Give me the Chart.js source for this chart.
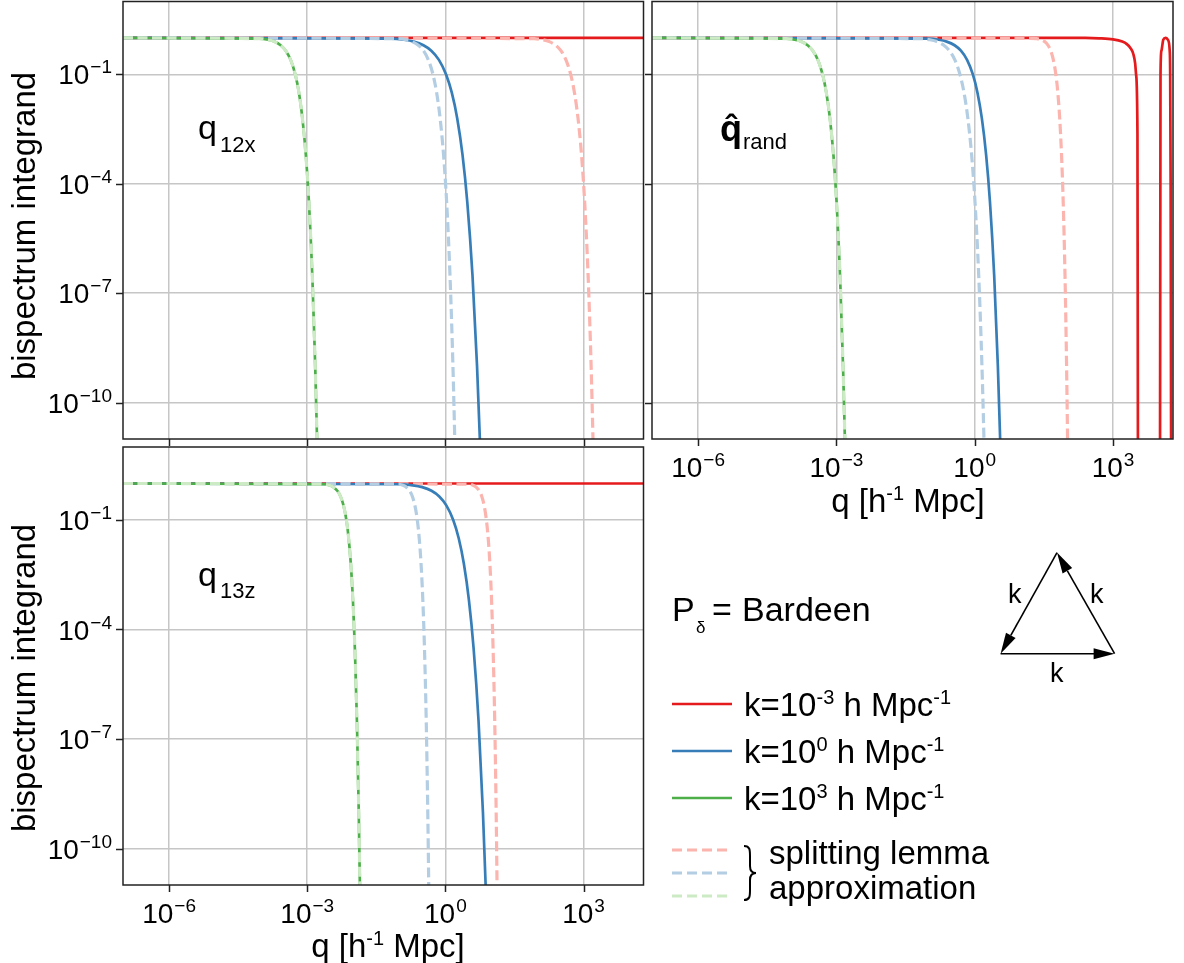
<!DOCTYPE html>
<html>
<head>
<meta charset="utf-8">
<script src="https://cdn.jsdelivr.net/npm/chart.js@4.4.1/dist/chart.umd.min.js"></script>
<style>
  html, body { margin: 0; padding: 0; background: #fff; }
  #wrap { position: relative; width: 1184px; height: 963px; overflow: hidden; background: #fff; }
  canvas { position: absolute; }
  svg { position: absolute; left: 0; top: 0; pointer-events: none; }
  svg text { font-family: 'Liberation Sans', Arial, Helvetica, sans-serif; fill: #000; }
</style>
</head>
<body>
<div id="wrap">
  <canvas id="cA" width="650" height="447" style="left:0;top:0"></canvas>
  <canvas id="cB" width="540" height="520" style="left:644px;top:0"></canvas>
  <canvas id="cC" width="650" height="518" style="left:0;top:445px"></canvas>
  <svg width="1184" height="963" viewBox="0 0 1184 963">
    <!-- axis titles -->
    <text transform="translate(35,226) rotate(-90)" text-anchor="middle" font-size="33">bispectrum integrand</text>
    <text transform="translate(35,678) rotate(-90)" text-anchor="middle" font-size="33">bispectrum integrand</text>
    <text x="908" y="512" text-anchor="middle" font-size="33">q [h<tspan font-size="20" dy="-12">-1</tspan><tspan dy="12"> Mpc]</tspan></text>
    <text x="388" y="957" text-anchor="middle" font-size="33">q [h<tspan font-size="20" dy="-12">-1</tspan><tspan dy="12"> Mpc]</tspan></text>
    <!-- panel annotations -->
    <text x="198" y="139" font-size="34">q</text>
    <text x="220" y="152" font-size="22">12x</text>
    <text x="198" y="586" font-size="34">q</text>
    <text x="220" y="598" font-size="22">13z</text>
    <text x="720" y="141" font-size="36" font-weight="bold">q</text>
    <text x="731" y="138" font-size="34" font-weight="bold" text-anchor="middle">ˆ</text>
    <text x="743" y="149" font-size="22">rand</text>
    <!-- legend -->
    <text x="672" y="621" font-size="34">P</text>
    <text x="696" y="633" font-size="17">δ</text>
    <text x="712" y="621" font-size="34">=</text>
    <text x="742" y="621" font-size="34">Bardeen</text>
    <line x1="672" x2="732" y1="704" y2="704" stroke="#e41a1c" stroke-width="2.5"/>
    <line x1="672" x2="732" y1="751" y2="751" stroke="#377eb8" stroke-width="2.5"/>
    <line x1="672" x2="732" y1="798" y2="798" stroke="#4daf4a" stroke-width="2.5"/>
    <text x="744" y="716" font-size="33">k=10<tspan font-size="20" dy="-12">-3</tspan><tspan dy="12"> h Mpc</tspan><tspan font-size="20" dy="-12">-1</tspan></text>
    <text x="744" y="763" font-size="33">k=10<tspan font-size="20" dy="-12">0</tspan><tspan dy="12"> h Mpc</tspan><tspan font-size="20" dy="-12">-1</tspan></text>
    <text x="744" y="810" font-size="33">k=10<tspan font-size="20" dy="-12">3</tspan><tspan dy="12"> h Mpc</tspan><tspan font-size="20" dy="-12">-1</tspan></text>
    <line x1="672" x2="732" y1="850" y2="850" stroke="#fbb4ae" stroke-width="3" stroke-dasharray="10 5"/>
    <line x1="672" x2="732" y1="873" y2="873" stroke="#b3cde3" stroke-width="3" stroke-dasharray="10 5"/>
    <line x1="672" x2="732" y1="896" y2="896" stroke="#ccebc5" stroke-width="3" stroke-dasharray="10 5"/>
    <path d="M744,846 C750,846 750,850 750,856 L750,866 C750,871 752,873 756,873 C752,873 750,875 750,880 L750,890 C750,896 750,900 744,900" fill="none" stroke="#000" stroke-width="2"/>
    <text x="769" y="864" font-size="33">splitting lemma</text>
    <text x="769" y="899" font-size="33">approximation</text>
    <!-- triangle -->
    <g stroke="#000" stroke-width="1.6">
      <line x1="1000.6" y1="653.7" x2="1094" y2="653.7"/>
      <line x1="1114.6" y1="653.7" x2="1067.4" y2="570.9"/>
      <line x1="1057" y1="552.6" x2="1010.8" y2="635.4"/>
    </g>
    <g fill="#000" stroke="none">
      <polygon points="1114.6,653.7 1093.6,648.2 1093.6,659.2"/>
      <polygon points="1057,552.6 1072.2,568.1 1062.6,573.6"/>
      <polygon points="1000.6,653.7 1015.6,638.1 1006.0,632.7"/>
    </g>
    <text x="1008" y="603" font-size="27">k</text>
    <text x="1090" y="603" font-size="27">k</text>
    <text x="1050" y="682" font-size="27">k</text>
  </svg>
</div>
<script>
// ---------------- axis ranges and ticks ----------------
const xRange = [1e-7, 2e4];
const yRange = [1e-11, 10];
const xTicks = [1e-6, 1e-3, 1, 1e3];
const xTickExps = ['\u22126', '\u22123', '0', '3'];
const yTicks = [1e-1, 1e-4, 1e-7, 1e-10];
const yTickExps = ['\u22121', '\u22124', '\u22127', '\u221210'];

// integrand levels (plateau -> below the axis)
const dropLevels = [1, 0.955, 0.891, 0.794, 0.631, 0.447, 0.251, 0.1, 0.0316, 6.31e-3, 6.31e-4, 3.16e-5, 3.16e-7, 1e-9, 1e-11, 3.16e-13];

// ---------------- panel q12x ----------------
const A_red_q = [1e-7, 2e4];
const A_red_y = [1, 1];
const A_redApprox_q = [1e-7, 85.1, 130.3, 179.9, 248.3, 322.1, 414.0, 524.8, 633.9, 756.8, 901.3, 1056, 1253, 1458, 1600, 1699];
const A_blue_q = [1e-7, 0.0659, 0.1256, 0.2046, 0.3334, 0.4943, 0.7228, 1.035, 1.377, 1.803, 2.350, 2.985, 3.868, 4.864, 5.598, 6.131];
const A_blueApprox_q = [1e-7, 0.0908, 0.1377, 0.1886, 0.2582, 0.3334, 0.4256, 0.537, 0.6457, 0.7674, 0.9110, 1.064, 1.257, 1.458, 1.596, 1.693];
const A_green_q = [1e-7, 9.29e-5, 1.41e-4, 1.93e-4, 2.64e-4, 3.41e-4, 4.36e-4, 5.50e-4, 6.61e-4, 7.85e-4, 9.32e-4, 1.089e-3, 1.287e-3, 1.491e-3, 1.633e-3, 1.732e-3];
const A_greenApprox_q = [1e-7, 9.29e-5, 1.41e-4, 1.93e-4, 2.64e-4, 3.41e-4, 4.36e-4, 5.50e-4, 6.61e-4, 7.85e-4, 9.32e-4, 1.089e-3, 1.287e-3, 1.491e-3, 1.633e-3, 1.732e-3];

// ---------------- panel q_rand ----------------
const B_red_q = [1e-7, 251, 501, 1000, 1585, 1995, 2399, 2754, 3020, 3162, 3388, 3467, 3631, 8913, 10471, 10715, 11220, 12303, 13804, 15488, 16982, 17378, 17783, 18197, 19055];
const B_red_y = [1, 1, 0.977, 0.912, 0.794, 0.676, 0.525, 0.363, 0.2, 0.1, 2.5e-3, 1e-11, 1e-14, 1e-14, 1e-11, 0.1, 0.447, 0.891, 1, 0.891, 0.447, 0.1, 1e-4, 1e-11, 1e-14];
const B_redApprox_q = [1e-7, 15.85, 22.16, 27.72, 32.82, 38.86, 44.56, 50.79, 57.54, 63.53, 69.70, 76.39, 83.07, 90.85, 98.33, 103.3, 106.6];
const B_redApprox_y = [1, 0.977, 0.955, 0.891, 0.794, 0.631, 0.447, 0.251, 0.1, 0.0316, 6.31e-3, 6.31e-4, 3.16e-5, 3.16e-7, 1e-9, 1e-11, 3.16e-13];
const B_blue_q = [1e-7, 0.0989, 0.1663, 0.2466, 0.3656, 0.5023, 0.6823, 0.912, 1.148, 1.427, 1.766, 2.143, 2.642, 3.177, 3.561, 3.831];
const B_blueApprox_q = [1e-7, 0.0677, 0.1070, 0.1514, 0.2141, 0.2831, 0.3707, 0.4786, 0.5861, 0.7096, 0.8560, 1.015, 1.22, 1.4355, 1.5867, 1.692];
const B_green_q = [1e-7, 8.13e-5, 1.245e-4, 1.718e-4, 2.371e-4, 3.076e-4, 3.954e-4, 5.012e-4, 6.05e-4, 7.228e-4, 8.608e-4, 1.0085e-3, 1.197e-3, 1.392e-3, 1.528e-3, 1.622e-3];
const B_greenApprox_q = [1e-7, 8.13e-5, 1.245e-4, 1.718e-4, 2.371e-4, 3.076e-4, 3.954e-4, 5.012e-4, 6.05e-4, 7.228e-4, 8.608e-4, 1.0085e-3, 1.197e-3, 1.392e-3, 1.528e-3, 1.622e-3];

// ---------------- panel q13z ----------------
const C_red_q = [1e-7, 2e4];
const C_red_y = [1, 1];
const C_redApprox_q = [1e-7, 3.253, 3.991, 4.655, 5.429, 6.148, 6.929, 7.762, 8.497, 9.247, 10.05, 10.84, 11.77, 12.65, 13.22, 13.61];
const C_blue_q = [1e-7, 0.1052, 0.1954, 0.3121, 0.4985, 0.7278, 1.047, 1.479, 1.945, 2.518, 3.245, 4.085, 5.241, 6.526, 7.472, 8.152];
const C_blueApprox_q = [1e-7, 0.0967, 0.1202, 0.1418, 0.1674, 0.1911, 0.2174, 0.2455, 0.2703, 0.2960, 0.3237, 0.3511, 0.3835, 0.4142, 0.4345, 0.4479];
const C_green_q = [1e-7, 2.351e-3, 3.044e-3, 3.701e-3, 4.498e-3, 5.266e-3, 6.131e-3, 7.079e-3, 7.934e-3, 8.837e-3, 9.824e-3, 0.01081, 0.01199, 0.01314, 0.01390, 0.01442];
const C_greenApprox_q = [1e-7, 2.351e-3, 3.044e-3, 3.701e-3, 4.498e-3, 5.266e-3, 6.131e-3, 7.079e-3, 7.934e-3, 8.837e-3, 9.824e-3, 0.01081, 0.01199, 0.01314, 0.01390, 0.01442];

// ---------------- styling ----------------
const COL = { red: '#e41a1c', blue: '#377eb8', green: '#4daf4a', redL: '#fbb4ae', blueL: '#b3cde3', greenL: '#ccebc5' };
const BASE_FONT = '28px "Liberation Sans", Arial, sans-serif';
const SUP_FONT = '19px "Liberation Sans", Arial, sans-serif';

function pts(qs, ys) { return qs.map((q, i) => ({ x: q, y: ys[i] })); }
function ds(qs, ys, color, dashed, order) {
  return {
    data: pts(qs, ys), borderColor: color, backgroundColor: color,
    borderWidth: dashed ? 3.2 : 2.7, borderDash: dashed ? [10, 4.5] : [],
    pointRadius: 0, pointHoverRadius: 0, fill: false,
    cubicInterpolationMode: 'monotone', clip: 0, order: order
  };
}

function drawPow(ctx, exp, x, baseline, align) {
  ctx.font = BASE_FONT; const w1 = ctx.measureText('10').width;
  ctx.font = SUP_FONT; const w2 = ctx.measureText(exp).width;
  const gap = 1;
  const total = w1 + gap + w2;
  const start = align === 'center' ? x - total / 2 : x - total;
  ctx.textAlign = 'left'; ctx.textBaseline = 'alphabetic';
  ctx.font = BASE_FONT; ctx.fillText('10', start, baseline);
  ctx.font = SUP_FONT; ctx.fillText(exp, start + w1 + gap, baseline - 11);
}

const axisDeco = {
  id: 'axisDeco',
  afterDraw(chart, args, opts) {
    const ctx = chart.ctx, a = chart.chartArea;
    const xs = chart.scales.x, ys = chart.scales.y;
    ctx.save();
    ctx.strokeStyle = '#222'; ctx.lineWidth = 1.5;
    ctx.beginPath();
    xTicks.forEach(v => { const px = Math.round(xs.getPixelForValue(v)) + 0.5; ctx.moveTo(px, a.bottom); ctx.lineTo(px, a.bottom + 7); });
    yTicks.forEach(v => { const py = Math.round(ys.getPixelForValue(v)) + 0.5; ctx.moveTo(a.left - 7, py); ctx.lineTo(a.left, py); });
    ctx.stroke();
    ctx.strokeRect(a.left, a.top, a.right - a.left, a.bottom - a.top);
    ctx.fillStyle = '#000';
    if (opts.xLabels) xTicks.forEach((v, i) => drawPow(ctx, xTickExps[i], xs.getPixelForValue(v), a.bottom + 38, 'center'));
    if (opts.yLabels) yTicks.forEach((v, i) => drawPow(ctx, yTickExps[i], a.left - 11, ys.getPixelForValue(v) + 10, 'right'));
    ctx.restore();
  }
};

function makeChart(id, datasets, padding, deco) {
  const gridOpts = { color: '#c6c6c6', lineWidth: 1.5, drawTicks: false };
  return new Chart(document.getElementById(id), {
    type: 'line',
    data: { datasets: datasets },
    options: {
      responsive: false, animation: false, devicePixelRatio: 1, events: [],
      layout: { padding: padding },
      plugins: { legend: { display: false }, tooltip: { enabled: false }, axisDeco: deco },
      scales: {
        x: { type: 'logarithmic', min: xRange[0], max: xRange[1],
             afterBuildTicks: s => { s.ticks = xTicks.map(v => ({ value: v })); },
             ticks: { display: false }, grid: gridOpts, border: { display: false } },
        y: { type: 'logarithmic', min: yRange[0], max: yRange[1],
             afterBuildTicks: s => { s.ticks = yTicks.map(v => ({ value: v })); },
             ticks: { display: false }, grid: gridOpts, border: { display: false } }
      }
    },
    plugins: [axisDeco]
  });
}

makeChart('cA', [
  ds(A_greenApprox_q, dropLevels, COL.greenL, true, 0),
  ds(A_green_q, dropLevels, COL.green, false, 1),
  ds(A_blueApprox_q, dropLevels, COL.blueL, true, 2),
  ds(A_blue_q, dropLevels, COL.blue, false, 3),
  ds(A_redApprox_q, dropLevels, COL.redL, true, 4),
  ds(A_red_q, A_red_y, COL.red, false, 5)
], { left: 123, right: 6.5, top: 1.5, bottom: 8 }, { xLabels: false, yLabels: true });

makeChart('cB', [
  ds(B_greenApprox_q, dropLevels, COL.greenL, true, 0),
  ds(B_green_q, dropLevels, COL.green, false, 1),
  ds(B_blueApprox_q, dropLevels, COL.blueL, true, 2),
  ds(B_blue_q, dropLevels, COL.blue, false, 3),
  ds(B_redApprox_q, B_redApprox_y, COL.redL, true, 4),
  ds(B_red_q, B_red_y, COL.red, false, 5)
], { left: 8, right: 11, top: 1.5, bottom: 81 }, { xLabels: true, yLabels: false });

makeChart('cC', [
  ds(C_greenApprox_q, dropLevels, COL.greenL, true, 0),
  ds(C_green_q, dropLevels, COL.green, false, 1),
  ds(C_blueApprox_q, dropLevels, COL.blueL, true, 2),
  ds(C_blue_q, dropLevels, COL.blue, false, 3),
  ds(C_redApprox_q, dropLevels, COL.redL, true, 4),
  ds(C_red_q, C_red_y, COL.red, false, 5)
], { left: 123, right: 6.5, top: 2, bottom: 78 }, { xLabels: true, yLabels: true });
</script>
</body>
</html>
